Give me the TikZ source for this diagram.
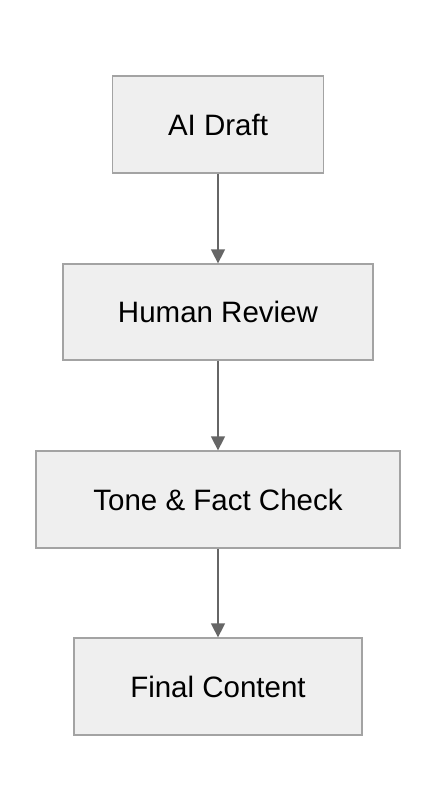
\documentclass[tikz,border=0pt]{standalone}
\usepackage{fontspec}
\setmainfont{Liberation Sans}
\usetikzlibrary{arrows.meta}
\definecolor{boxfill}{HTML}{EFEFEF}
\definecolor{boxline}{HTML}{A3A3A3}
\definecolor{arrowcol}{HTML}{666666}
\begin{document}
\begin{tikzpicture}[x=1pt,y=-1pt,
  stepbox/.style={draw=boxline,fill=boxfill,line width=1.3pt,inner sep=0pt,font=\fontsize{29.5}{34}\selectfont},
  flow/.style={draw=arrowcol,line width=1.5pt,-{Triangle[length=14pt,width=14pt]}}]
\useasboundingbox (0,0) rectangle (436,812);
\fill[white] (0,0) rectangle (436,812);
\node[stepbox,minimum width=211pt,minimum height=97pt] (a) at (218,124.5) {AI Draft};
\node[stepbox,minimum width=310pt,minimum height=96pt] (b) at (218,312) {Human Review};
\node[stepbox,minimum width=364pt,minimum height=97pt] (c) at (218,499.5) {Tone \& Fact Check};
\node[stepbox,minimum width=288pt,minimum height=97pt] (d) at (218,686.5) {Final Content};
\draw[flow] (a) -- (b);
\draw[flow] (b) -- (c);
\draw[flow] (c) -- (d);
\end{tikzpicture}
\end{document}
